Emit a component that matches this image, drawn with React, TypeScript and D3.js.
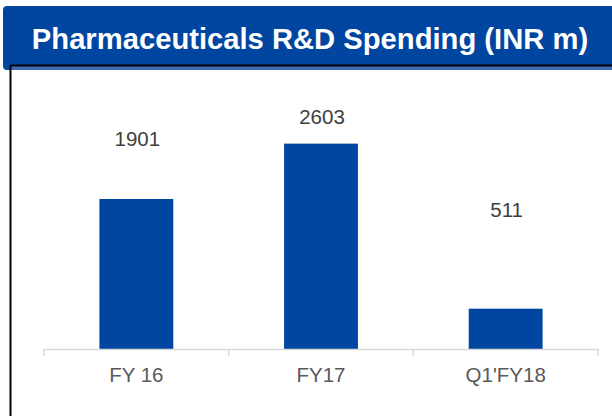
import React from "react";
import * as d3 from "d3";

const categories = ["FY 16", "FY17", "Q1'FY18"];
const values = [1901, 2603, 511];
const title = "Pharmaceuticals R&D Spending (INR m)";

const W = 612;
const H = 416;
const BLUE = "#0046A0";

export default function App() {
  const x = d3
    .scaleBand<string>()
    .domain(categories)
    .range([44, 598])
    .paddingInner(0.6)
    .paddingOuter(0.3);
  const y = d3.scaleLinear().domain([0, 3000]).range([349, 349 - 3000 * 0.0789]);
  const boundaries = d3
    .scaleBand<string>()
    .domain(categories)
    .range([44, 598]);
  const tickXs = [...categories.map((c) => boundaries(c) as number), 598];
  const labelLift = [53, 20, 92];
  const baseY = y(0);

  return (
    <svg
      width={W}
      height={H}
      style={{ position: "absolute", left: 0, top: 0, background: "#fff" }}
      fontFamily="'Liberation Sans', Arial, sans-serif"
    >
      <rect x={3} y={6} width={640} height={64} rx={4} fill={BLUE} />
      <rect x={11} y={66} width={640} height={4} fill="#3E6DB5" />
      <line x1={10.5} y1={65.5} x2={W} y2={65.5} stroke="#000" strokeWidth={2} />
      <line x1={10.5} y1={65} x2={10.5} y2={H} stroke="#000" strokeWidth={2} />
      <text
        x={310}
        y={48.5}
        textAnchor="middle"
        fill="#fff"
        fontWeight="bold"
        fontSize={29.2}
      >
        {title}
      </text>
      {categories.map((c, i) => (
        <rect
          key={c}
          x={x(c)}
          y={y(values[i])}
          width={x.bandwidth()}
          height={baseY - y(values[i])}
          fill={BLUE}
        />
      ))}
      {categories.map((c, i) => (
        <text
          key={"v" + c}
          x={(x(c) as number) + x.bandwidth() / 2 + 1}
          y={y(values[i]) - labelLift[i]}
          textAnchor="middle"
          fill="#404040"
          fontSize={20.5}
        >
          {values[i]}
        </text>
      ))}
      <line x1={44} y1={baseY + 0.5} x2={598} y2={baseY + 0.5} stroke="#D9D9D9" strokeWidth={1.5} />
      {tickXs.map((t, i) => (
        <line key={"t" + i} x1={t} y1={baseY} x2={t} y2={baseY + 7} stroke="#D9D9D9" strokeWidth={1.5} />
      ))}
      {categories.map((c) => (
        <text
          key={"l" + c}
          x={(x(c) as number) + x.bandwidth() / 2}
          y={382}
          textAnchor="middle"
          fill="#595959"
          fontSize={20.5}
        >
          {c}
        </text>
      ))}
    </svg>
  );
}
